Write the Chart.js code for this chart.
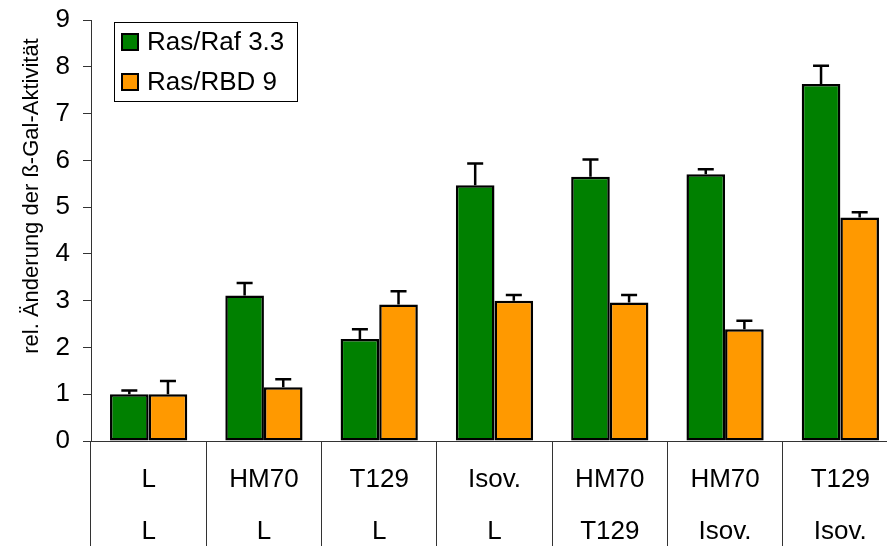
<!DOCTYPE html>
<html>
<head>
<meta charset="utf-8">
<script src="https://cdn.jsdelivr.net/npm/chart.js@4"></script>
<style>
  html, body { margin: 0; padding: 0; overflow: hidden; background: #fff; }
  #wrap { width: 898px; height: 546px; position: relative; }
</style>
</head>
<body>
<div id="wrap"><canvas id="chart"></canvas></div>
<script>
// Daten
const zeile1 = ["L", "HM70", "T129", "Isov.", "HM70", "HM70", "T129"];
const zeile2 = ["L", "L", "L", "L", "T129", "Isov.", "Isov."];
const rasRaf = [1.0, 3.11, 2.18, 5.47, 5.65, 5.70, 7.63];
const rasRafFehler = [0.08, 0.27, 0.21, 0.46, 0.37, 0.11, 0.39];
const rasRbd = [1.0, 1.15, 2.92, 3.0, 2.96, 2.39, 4.78];
const rasRbdFehler = [0.28, 0.17, 0.28, 0.12, 0.16, 0.18, 0.11];
const yTicks = [0, 1, 2, 3, 4, 5, 6, 7, 8, 9];

const schrift = "'Liberation Sans', Arial, sans-serif";
const labels = zeile1.map((a, i) => [a, zeile2[i]]);

// Fehlerbalken (nur nach oben)
const fehlerPlugin = {
  id: "fehler",
  afterDatasetsDraw(chart) {
    const ctx = chart.ctx;
    const y = chart.scales.y;
    ctx.save();
    ctx.strokeStyle = "#000";
    ctx.lineWidth = 2.5;
    chart.data.datasets.forEach((ds, di) => {
      const meta = chart.getDatasetMeta(di);
      meta.data.forEach((bar, i) => {
        const top = y.getPixelForValue(ds.data[i] + ds.fehler[i]);
        ctx.beginPath();
        ctx.moveTo(bar.x, bar.y);
        ctx.lineTo(bar.x, top);
        ctx.moveTo(bar.x - 8, top);
        ctx.lineTo(bar.x + 8, top);
        ctx.stroke();
      });
    });
    ctx.restore();
  }
};

// Achsentitel und Legende im Diagramm
const beschriftungPlugin = {
  id: "beschriftung",
  afterDraw(chart) {
    const ctx = chart.ctx;
    ctx.save();
    ctx.fillStyle = "#000";
    ctx.font = "22px " + schrift;
    ctx.textAlign = "center";
    ctx.textBaseline = "middle";
    ctx.translate(32, 196);
    ctx.rotate(-Math.PI / 2);
    ctx.fillText("rel. Änderung der ß-Gal-Aktivität", 0, 0);
    ctx.restore();

    ctx.save();
    ctx.fillStyle = "#fff";
    ctx.fillRect(114.5, 22.5, 183, 79);
    ctx.strokeStyle = "#000";
    ctx.lineWidth = 1;
    ctx.strokeRect(114.5, 22.5, 183, 79);
    ctx.font = "26px " + schrift;
    ctx.textAlign = "left";
    ctx.textBaseline = "middle";
    chart.data.datasets.forEach((ds, i) => {
      const cy = 42 + i * 40;
      ctx.fillStyle = ds.backgroundColor;
      ctx.fillRect(122, cy - 8, 16, 16);
      ctx.lineWidth = 2;
      ctx.strokeStyle = "#000";
      ctx.strokeRect(122, cy - 8, 16, 16);
      ctx.fillStyle = "#000";
      ctx.fillText(ds.label, 147, cy + 1);
    });
    ctx.restore();
  }
};

new Chart(document.getElementById("chart"), {
  type: "bar",
  data: {
    labels: labels,
    datasets: [
      {
        label: "Ras/Raf 3.3",
        data: rasRaf,
        fehler: rasRafFehler,
        backgroundColor: "#008000",
        borderColor: "#000",
        borderWidth: 2.5,
        borderSkipped: false,
        categoryPercentage: 0.67,
        barPercentage: 1.0
      },
      {
        label: "Ras/RBD 9",
        data: rasRbd,
        fehler: rasRbdFehler,
        backgroundColor: "#FF9900",
        borderColor: "#000",
        borderWidth: 2.5,
        borderSkipped: false,
        categoryPercentage: 0.67,
        barPercentage: 1.0
      }
    ]
  },
  options: {
    responsive: true,
    maintainAspectRatio: false,
    animation: false,
    layout: { padding: { top: 20, left: 0, right: 0, bottom: 0 } },
    plugins: {
      legend: { display: false },
      tooltip: { enabled: false }
    },
    scales: {
      x: {
        grid: {
          offset: true,
          drawOnChartArea: false,
          drawTicks: true,
          tickLength: 105,
          color: "#333",
          lineWidth: 1
        },
        border: { display: true, color: "#333", width: 1 },
        ticks: {
          color: "#000",
          font: { size: 26, family: schrift, lineHeight: 2 },
          padding: -92,
          maxRotation: 0,
          autoSkip: false
        },
        afterFit: (s) => {
          s.height = 105;
          s.paddingLeft = 0;
          s.paddingRight = 0;
        }
      },
      y: {
        min: 0,
        max: 9,
        afterBuildTicks: (s) => { s.ticks = yTicks.map((v) => ({ value: v })); },
        grid: {
          drawOnChartArea: false,
          tickLength: 8,
          color: "#333",
          lineWidth: 1
        },
        border: { display: true, color: "#333", width: 1 },
        ticks: {
          color: "#000",
          font: { size: 26, family: schrift },
          padding: 13
        },
        afterFit: (s) => {
          s.width = 91;
          s.paddingTop = 0;
          s.paddingBottom = 0;
        }
      }
    }
  },
  plugins: [fehlerPlugin, beschriftungPlugin]
});
</script>
</body>
</html>
